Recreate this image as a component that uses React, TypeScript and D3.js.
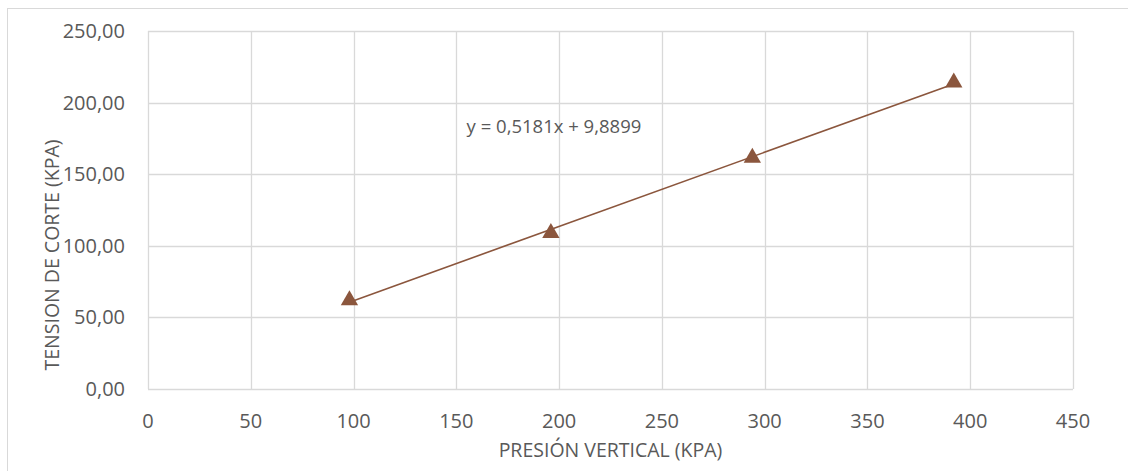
import { useEffect, useRef } from "react";
import * as d3 from "d3";

// measured points
const presion = [98, 196, 294, 392];
const tension = [62, 109, 161.5, 214];

// linear trendline shown on the chart
const slope = 0.5181;
const intercept = 9.8899;
const equationLabel = "y = 0,5181x + 9,8899";

const xTicks = [0, 50, 100, 150, 200, 250, 300, 350, 400, 450];
const yTicks = [0, 50, 100, 150, 200, 250];

const xTitle = "PRESIÓN VERTICAL (KPA)";
const yTitle = "TENSION DE CORTE (KPA)";

export default function App() {
  const svgRef = useRef<SVGSVGElement>(null);
  const width = 1128;
  const height = 471;

  useEffect(() => {
    const margin = { top: 31, right: 55, bottom: 82, left: 148 };
    const wt = width - margin.left - margin.right;
    const ht = height - margin.top - margin.bottom;
    const font = "'Open Sans', 'Noto Sans', sans-serif";
    const textColor = "#595959";
    const gridColor = "#d9d9d9";
    const markColor = "#8b563d";

    const root = d3.select(svgRef.current);
    root.selectAll("*").remove();

    root.append("rect")
      .attr("width", width)
      .attr("height", height)
      .attr("fill", "#fff");

    // outer chart border
    root.append("rect")
      .attr("x", 7.5)
      .attr("y", 8.5)
      .attr("width", width + 10)
      .attr("height", height + 10)
      .attr("fill", "none")
      .attr("stroke", gridColor);

    const svg = root.append("g")
      .attr("transform", `translate(${margin.left},${margin.top})`);

    const x = d3.scaleLinear().domain([0, 450]).range([0, wt]);
    const y = d3.scaleLinear().domain([0, 250]).range([ht, 0]);

    // grid
    svg.selectAll(".vgrid")
      .data(xTicks)
      .join("line")
        .attr("x1", d => Math.round(x(d)) + 0.5)
        .attr("x2", d => Math.round(x(d)) + 0.5)
        .attr("y1", 0)
        .attr("y2", ht)
        .attr("stroke", gridColor)
        .attr("stroke-width", 1.3);

    svg.selectAll(".hgrid")
      .data(yTicks)
      .join("line")
        .attr("x1", 0)
        .attr("x2", wt)
        .attr("y1", d => Math.round(y(d)) + 0.5)
        .attr("y2", d => Math.round(y(d)) + 0.5)
        .attr("stroke", gridColor)
        .attr("stroke-width", 1.3);

    // x tick labels
    svg.selectAll(".xlab")
      .data(xTicks)
      .join("text")
        .attr("x", d => x(d))
        .attr("y", ht + 39)
        .attr("text-anchor", "middle")
        .attr("fill", textColor)
        .style("font-family", font)
        .style("font-size", "20px")
        .text(d => d);

    // y tick labels
    svg.selectAll(".ylab")
      .data(yTicks)
      .join("text")
        .attr("x", -23)
        .attr("y", d => y(d) + 7)
        .attr("text-anchor", "end")
        .attr("fill", textColor)
        .style("font-family", font)
        .style("font-size", "20px")
        .text(d => d3.format(".2f")(d).replace(".", ","));

    // trendline
    const xs = d3.extent(presion) as [number, number];
    svg.append("line")
      .attr("x1", x(xs[0]))
      .attr("y1", y(slope * xs[0] + intercept))
      .attr("x2", x(xs[1]))
      .attr("y2", y(slope * xs[1] + intercept))
      .attr("stroke", markColor)
      .attr("stroke-width", 1.6);

    // markers
    const tri = d3.symbol().type(d3.symbolTriangle).size(130);
    svg.selectAll(".pt")
      .data(presion.map((p, i) => ({ p, t: tension[i] })))
      .join("path")
        .attr("d", tri)
        .attr("transform", d => `translate(${x(d.p)},${y(d.t)})`)
        .attr("fill", markColor);

    // equation label
    svg.append("text")
      .attr("x", x(155))
      .attr("y", y(178.5))
      .attr("fill", textColor)
      .style("font-family", font)
      .style("font-size", "18.5px")
      .text(equationLabel);

    // axis titles
    svg.append("text")
      .attr("x", wt / 2)
      .attr("y", ht + 68)
      .attr("text-anchor", "middle")
      .attr("fill", textColor)
      .style("font-family", font)
      .style("font-size", "19.5px")
      .text(xTitle);

    svg.append("text")
      .attr("transform", `translate(${-margin.left + 59},${ht / 2 + 45}) rotate(-90)`)
      .attr("text-anchor", "middle")
      .attr("fill", textColor)
      .style("font-family", font)
      .style("font-size", "19.5px")
      .text(yTitle);
  }, []);

  return (
    <svg
      ref={svgRef}
      width={width}
      height={height}
      style={{ position: "absolute", left: 0, top: 0 }}
    />
  );
}
